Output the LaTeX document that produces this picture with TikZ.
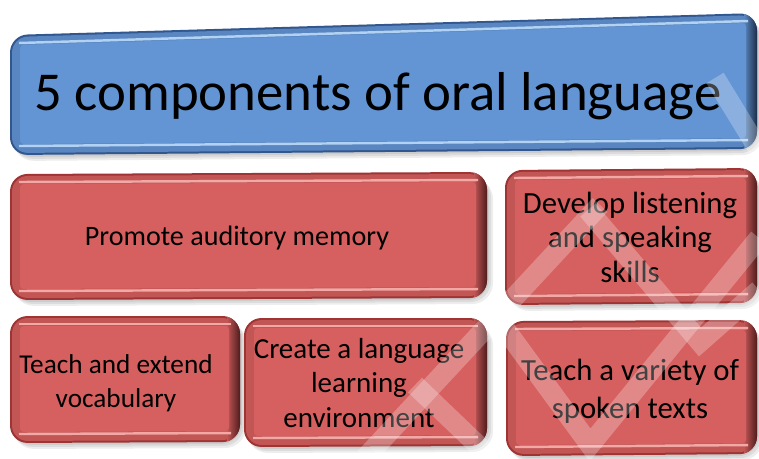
\documentclass[tikz,border=0pt]{standalone}
\usepackage{fontspec}
\setmainfont{Carlito}
\usepackage{tikz}
\usetikzlibrary{positioning}

\definecolor{titlemain}{RGB}{99,149,213}
\definecolor{titledark}{RGB}{50,86,142}
\definecolor{titlelight}{RGB}{178,210,244}
\definecolor{itemmain}{RGB}{214,96,95}
\definecolor{itemdark}{RGB}{158,52,52}
\definecolor{itemlight}{RGB}{242,168,165}

\begin{document}
\begin{tikzpicture}[x=0.02cm,y=-0.02cm,
  boxtext/.style={align=center,text=black,inner sep=0pt,anchor=base},
  band/.style={white,opacity=0.26,line width=11.5pt}]
  % bevelled box: colour prefix, then corners TL, TR, BR, BL
  \newcommand{\bevelbox}[9]{
    \foreach \s in {2,4,6} {
      \fill[black,opacity=0.07,rounded corners=12]
        ({#2+\s/2},{#3+\s}) -- ({#4+\s},{#5+\s}) -- ({#6+\s},{#7+\s}) -- ({#8+\s/2},{#9+\s}) -- cycle;
    }
    \fill[#1dark,rounded corners=10] (#2,#3) -- (#4,#5) -- (#6,#7) -- (#8,#9) -- cycle;
    \fill[#1main!90!black,rounded corners=9]
      ({#2+2},{#3+2}) -- ({#4-2},{#5+2}) -- ({#6-2},{#7-2}) -- ({#8+2},{#9-2}) -- cycle;
    \begin{scope}
      \clip[rounded corners=10] (#2,#3) -- (#4,#5) -- (#6,#7) -- (#8,#9) -- cycle;
      \shade[left color=#1main!90!black,right color=#1dark!45!black]
        ({#4-13},{#5}) -- ({#4+1},{#5}) -- ({#6+1},{#7}) -- ({#6-13},{#7}) -- cycle;
    \end{scope}
    \draw[#1light,line width=1.4pt] ({#2+9},{#3+8}) -- ({#4-9},{#5+8});
    \draw[#1light,line width=1.4pt] ({#8+9},{#9-9}) -- ({#6-9},{#7-9});
    \fill[#1main,rounded corners=2]
      ({#2+10},{#3+10}) -- ({#4-11},{#5+10}) -- ({#6-11},{#7-11}) -- ({#8+10},{#9-11}) -- cycle;
  }

  \useasboundingbox[fill=white] (0,0) rectangle (759,458);

  % heading
  \bevelbox{title}{10}{35}{757}{13}{757}{149}{10}{155}
  \node[boxtext,font=\fontsize{31.2}{36}\selectfont] (heading) at (378,110)
    {5 components of oral language};

  % the five components
  \bevelbox{item}{10}{174}{487}{172}{487}{298}{10}{300}
  \bevelbox{item}{505}{170}{757}{168}{757}{303}{505}{305}
  \bevelbox{item}{10}{316}{240}{316}{240}{442}{10}{443}
  \bevelbox{item}{244}{318}{487}{318}{487}{446}{244}{447}
  \bevelbox{item}{506}{321}{757}{320}{757}{454}{506}{456}

  % multi-line labels sit on their last baseline
  \node[boxtext,font=\fontsize{16}{19}\selectfont] (memory) at (237,245)
    {Promote auditory memory};
  \node[boxtext,font=\fontsize{17.5}{19.6}\selectfont] (listening) at (630,282)
    {Develop listening\\and speaking\\skills};
  \node[boxtext,font=\fontsize{15.5}{19.3}\selectfont] (vocabulary) at (116,407)
    {Teach and extend\\vocabulary};
  \node[boxtext,font=\fontsize{16.5}{19.6}\selectfont] (environment) at (359,427)
    {Create a language\\learning\\environment};
  \node[boxtext,font=\fontsize{17.5}{21.5}\selectfont] (texts) at (630,418)
    {Teach a variety of\\spoken texts};

  % faint chevrons laid over the lot
  \draw[band] (365,458) -- (600,205);
  \draw[band] (588,210) -- (700,342) -- (759,290);
  \draw[band] (500,322) -- (590,445) -- (759,238);
  \draw[band] (415,385) -- (485,452);
  \draw[band] (715,78) -- (759,150);
\end{tikzpicture}
\end{document}
